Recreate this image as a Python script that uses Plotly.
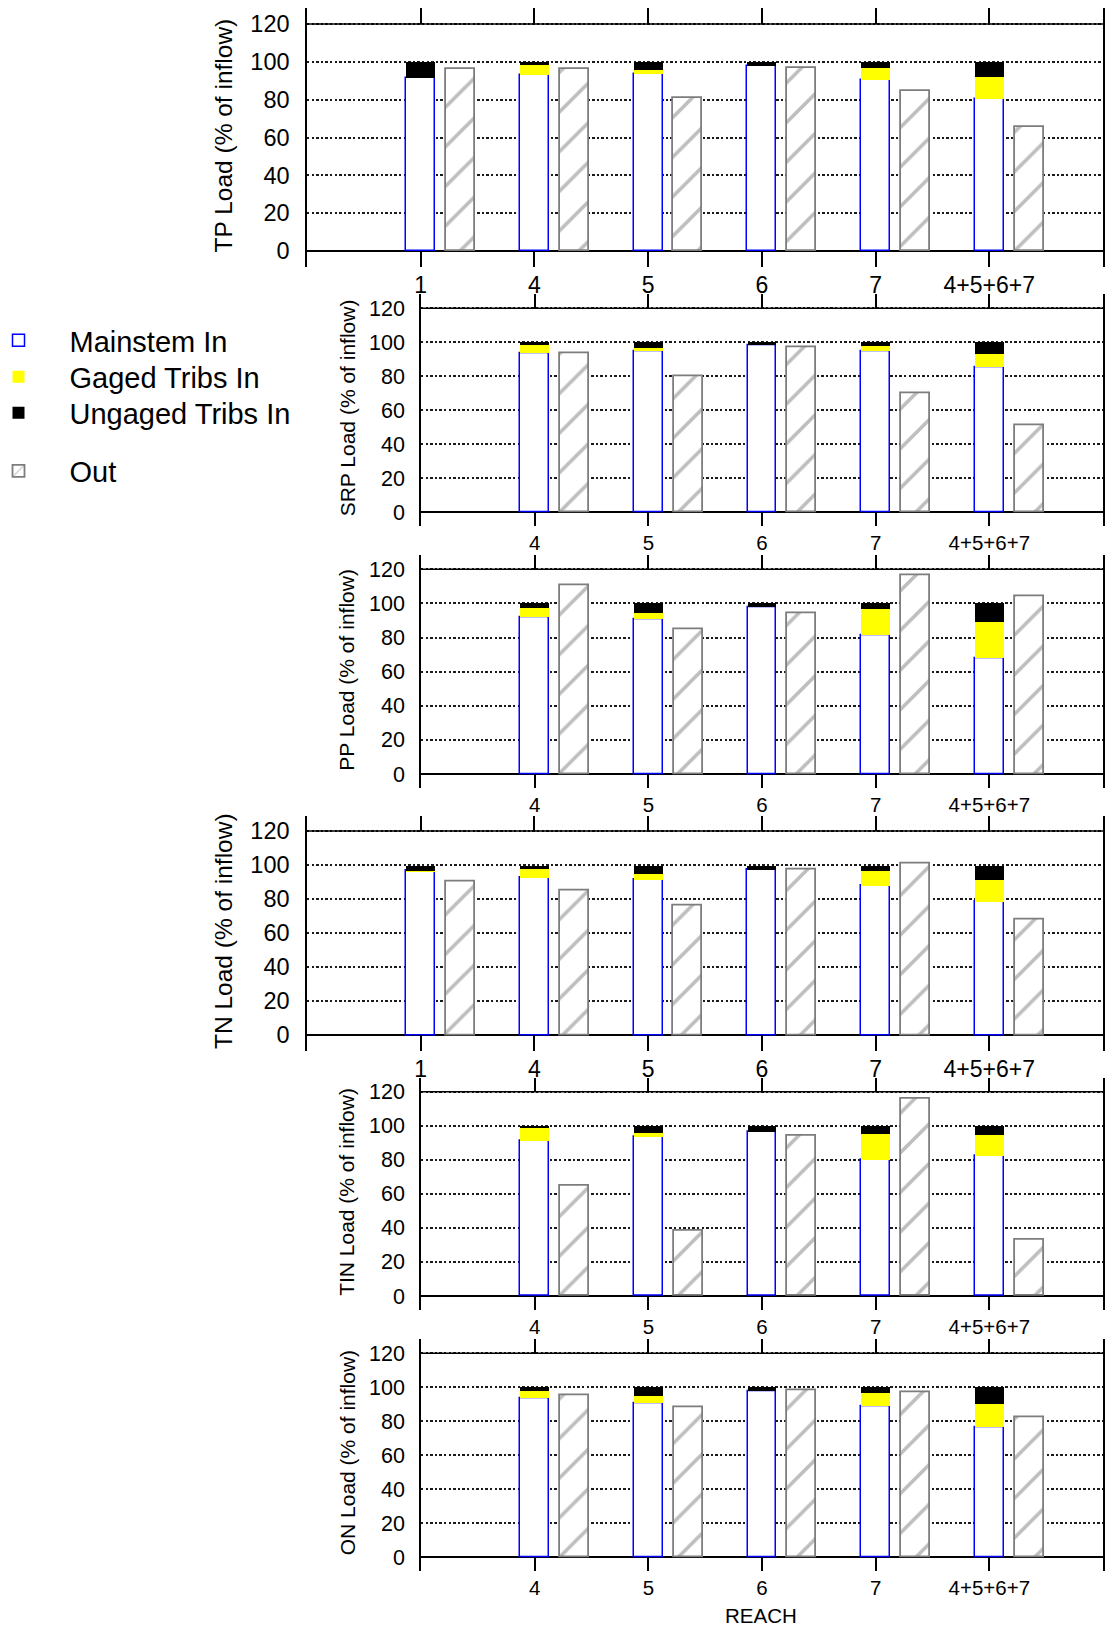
import plotly.graph_objects as go

# ---- data: load as % of inflow, per reach ----
reaches_all = ["1", "4", "5", "6", "7", "4+5+6+7"]
reaches_sub = ["4", "5", "6", "7", "4+5+6+7"]

tp_main = [91.5, 93.1, 93.7, 97.9, 90.5, 80.6]
tp_gaged = [0.0, 5.0, 2.1, 0.0, 6.5, 11.5]
tp_ungaged = [8.5, 1.9, 4.2, 2.1, 3.0, 7.9]
tp_out = [96.1, 96.0, 81.0, 96.5, 84.7, 65.3]

srp_main = [93.7, 94.7, 98.0, 94.7, 85.5]
srp_gaged = [4.7, 1.6, 0.0, 2.8, 7.6]
srp_ungaged = [1.6, 3.7, 2.0, 2.5, 6.9]
srp_out = [93.7, 79.8, 97.1, 69.8, 51.4]

pp_main = [91.8, 90.4, 97.5, 81.1, 67.6]
pp_gaged = [5.5, 3.9, 0.0, 15.6, 21.5]
pp_ungaged = [2.7, 5.7, 2.5, 3.3, 10.9]
pp_out = [110.5, 84.8, 94.1, 116.4, 104.1]

tn_main = [96.5, 92.6, 91.4, 97.5, 87.7, 78.5]
tn_gaged = [0.3, 5.4, 3.5, 0.0, 8.8, 13.1]
tn_ungaged = [3.2, 2.0, 5.1, 2.5, 3.5, 8.4]
tn_out = [90.4, 84.8, 76.2, 97.5, 101.0, 68.0]

tin_main = [91.2, 93.6, 96.5, 80.3, 82.4]
tin_gaged = [7.4, 2.3, 0.0, 15.2, 12.3]
tin_ungaged = [1.4, 4.1, 3.5, 4.5, 5.3]
tin_out = [64.5, 38.5, 94.3, 116.0, 33.2]

on_main = [93.4, 90.6, 97.5, 89.1, 76.6]
on_gaged = [4.3, 3.9, 0.0, 7.6, 13.6]
on_ungaged = [2.3, 5.5, 2.5, 3.3, 9.8]
on_out = [95.5, 88.5, 98.2, 96.9, 82.6]

y_ticks = [0, 20, 40, 60, 80, 100, 120]

series = [
    ("TP", reaches_all, tp_main, tp_gaged, tp_ungaged, tp_out),
    ("SRP", reaches_sub, srp_main, srp_gaged, srp_ungaged, srp_out),
    ("PP", reaches_sub, pp_main, pp_gaged, pp_ungaged, pp_out),
    ("TN", reaches_all, tn_main, tn_gaged, tn_ungaged, tn_out),
    ("TIN", reaches_sub, tin_main, tin_gaged, tin_ungaged, tin_out),
    ("ON", reaches_sub, on_main, on_gaged, on_ungaged, on_out),
]

# ---- page geometry (pixels) ----
W, H = 1111, 1628
X_RIGHT = 1103
# (y of 120 line, y of 0 line, tick extension, left edge, large fonts)
frames = [
    (24.0, 251.0, 16.0, 307.0, True),
    (308.3, 512.3, 14.0, 421.0, False),
    (569.3, 774.0, 14.0, 421.0, False),
    (831.0, 1035.0, 15.5, 307.0, True),
    (1091.7, 1296.0, 14.0, 421.0, False),
    (1353.3, 1557.3, 14.0, 421.0, False),
]

# legend rows: (legend id, vertical centre in px)
legend_rows = [("legend", 340.5), ("legend2", 377.0), ("legend3", 413.0), ("legend4", 471.0)]

FONT = "Liberation Sans, Arial, sans-serif"
BLUE = "#0000ff"
YELLOW = "#ffff00"
GREY = "#7d7d7d"
BAR_W = 0.255
OUT_SHIFT = 0.35
GRID_DASH = "2.3px,2.3px"

fig = go.Figure()
annotations = []
shapes = []

for k, ((name, reaches, main, gaged, ungaged, out), (y120, y0, ext, xl, big)) in enumerate(zip(series, frames)):
    idx = "" if k == 0 else str(k + 1)
    xa, ya = "x" + idx, "y" + idx
    first = k == 0

    gaged_base = list(main)
    ungaged_base = [m + g for m, g in zip(main, gaged)]

    fig.add_trace(go.Bar(
        x=reaches, y=main, xaxis=xa, yaxis=ya, width=BAR_W, offset=-BAR_W / 2,
        marker=dict(color="white", line=dict(color=BLUE, width=1.5)),
        name="Mainstem In", legend="legend", showlegend=first,
    ))
    fig.add_trace(go.Bar(
        x=reaches, y=gaged, base=gaged_base, xaxis=xa, yaxis=ya, width=BAR_W, offset=-BAR_W / 2,
        marker=dict(color=YELLOW, line=dict(width=0)),
        name="Gaged Tribs In", legend="legend2", showlegend=first,
    ))
    fig.add_trace(go.Bar(
        x=reaches, y=ungaged, base=ungaged_base, xaxis=xa, yaxis=ya, width=BAR_W, offset=-BAR_W / 2,
        marker=dict(color="black", line=dict(width=0)),
        name="Ungaged Tribs In", legend="legend3", showlegend=first,
    ))
    fig.add_trace(go.Bar(
        x=reaches, y=out, xaxis=xa, yaxis=ya, width=BAR_W, offset=OUT_SHIFT - BAR_W / 2,
        marker=dict(color="white", line=dict(color=GREY, width=1.8),
                    pattern=dict(shape="/", fgcolor=GREY, bgcolor="white", size=28, solidity=0.13)),
        name="Out", legend="legend4", showlegend=first,
    ))

    ppu = (y0 - y120) / 120.0
    top_px, bot_px = y120 - ext, y0 + ext
    ydom = [1 - bot_px / H, 1 - top_px / H]
    yrange = [-ext / ppu, 120 + ext / ppu]
    xdom = [xl / W, X_RIGHT / W]
    xrange = [-1, 6] if big else [0, 6]

    tick_font = 23.5 if big else 21.5
    cat_font = 23 if big else 20.5
    title_font = 24.5 if big else 21

    fig.update_layout(**{
        "xaxis" + idx: dict(
            domain=xdom, range=xrange, anchor=ya, type="category",
            categoryorder="array", categoryarray=reaches_all,
            tickmode="array", tickvals=reaches, ticktext=reaches,
            showline=False, showgrid=False, zeroline=False,
            ticks="inside", ticklen=ext, tickwidth=1.5, tickcolor="black",
            mirror="ticks", tickfont=dict(family=FONT, size=cat_font, color="black"),
            ticklabelstandoff=2,
        ),
        "yaxis" + idx: dict(
            domain=ydom, range=yrange, anchor=xa,
            tickmode="array", tickvals=y_ticks,
            showline=True, mirror=True, linecolor="black", linewidth=1.5,
            showgrid=True, gridcolor="#1a1a1a", gridwidth=1.5, griddash=GRID_DASH,
            zeroline=True, zerolinecolor="black", zerolinewidth=1.5,
            ticks="", ticklabelstandoff=11 if big else 10,
            tickfont=dict(family=FONT, size=tick_font, color="black"),
        ),
    })

    shapes.append(dict(type="line", xref=xa + " domain", yref=ya, x0=0, x1=1, y0=120, y1=120,
                       line=dict(color="black", width=1.5), layer="above"))

    title_x = 223 if big else 347
    annotations.append(dict(
        text=f"{name} Load (% of inflow)", xref="paper", yref="paper",
        x=title_x / W, y=1 - ((y120 + y0) / 2 - 2) / H, xanchor="center", yanchor="middle",
        textangle=-90, showarrow=False, font=dict(family=FONT, size=title_font, color="black"),
    ))

annotations.append(dict(
    text="REACH", xref="paper", yref="paper", x=760.5 / W, y=1 - 1615 / H,
    xanchor="center", yanchor="middle", showarrow=False,
    font=dict(family=FONT, size=20.5, color="black"),
))

legend_style = dict(
    x=-32.5 / W, xanchor="left", yanchor="middle",
    font=dict(family=FONT, size=29, color="black"),
    itemwidth=92, bgcolor="rgba(0,0,0,0)", borderwidth=0,
)
legend_layout = {lid: dict(legend_style, y=1 - yc / H) for lid, yc in legend_rows}

fig.update_layout(
    width=W, height=H, autosize=False,
    margin=dict(l=0, r=0, t=0, b=0, pad=0, autoexpand=False),
    paper_bgcolor="white", plot_bgcolor="white",
    barmode="overlay", bargap=0,
    showlegend=True,
    annotations=annotations,
    shapes=shapes,
    **legend_layout,
)

fig.write_html("out.html")
